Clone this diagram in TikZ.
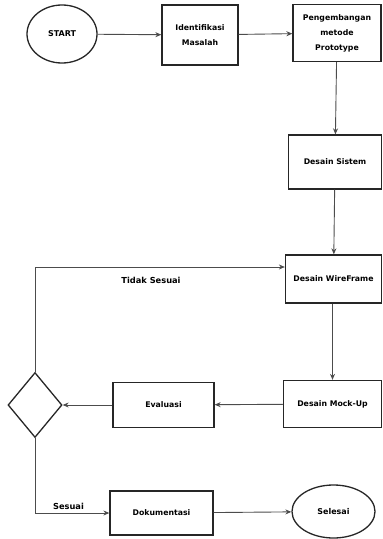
\documentclass[tikz,border=0pt]{standalone}
\usepackage{fontspec}
\setmainfont{DejaVu Sans}
\usetikzlibrary{shapes.geometric,arrows.meta}
\begin{document}
\begin{tikzpicture}[x=1bp,y=-1bp,
  box/.style={draw=black!85,line width=1.3bp,minimum width=#1,inner sep=1bp,align=center,font=\fontsize{7.8}{15}\selectfont\bfseries},
  oval/.style={draw=black!85,line width=1.3bp,ellipse,inner sep=0,align=center,font=\fontsize{8}{9}\selectfont\bfseries},
  dec/.style={draw=black!85,line width=1.3bp,diamond,inner sep=0},
  conn/.style={draw=black!70,line width=0.9bp,-{Stealth[length=6bp,width=5bp]}},
  lbl/.style={font=\fontsize{8.3}{9}\selectfont\bfseries}]
\useasboundingbox (0,0) rectangle (382,539);
\node[oval,minimum width=70bp,minimum height=58bp] (start) at (62,34) {START};
\node[box=76bp,minimum height=60bp] (ident) at (200,35) {Identifikasi\\Masalah};
\node[box=88bp,minimum height=57bp] (peng) at (337,33) {Pengembangan\\metode\\Prototype};
\node[box=93bp,minimum height=54bp] (dsis) at (335,162) {Desain Sistem};
\node[box=96bp,minimum height=48bp] (dwire) at (333.5,279) {Desain WireFrame};
\node[box=98bp,minimum height=47bp] (dmock) at (332.5,404) {Desain Mock-Up};
\node[box=101bp,minimum height=45bp] (eval) at (163.5,405) {Evaluasi};
\node[dec,minimum width=54bp,minimum height=65bp] (dia) at (35,405) {};
\node[box=103bp,minimum height=44bp] (dok) at (161.5,513) {Dokumentasi};
\node[oval,minimum width=83bp,minimum height=53bp] (sel) at (333.5,511.5) {Selesai};
\coordinate (c1) at (35,267);
\coordinate (c2) at (35,513);
\draw[conn] (start) -- (ident);
\draw[conn] (ident) -- (peng);
\draw[conn] (peng) -- (dsis);
\draw[conn] (dsis) -- (dwire);
\draw[conn] (dwire.south -| dmock.north) -- (dmock);
\draw[conn] (dmock) -- (eval);
\draw[conn] (eval) -- (dia);
\draw[conn] (dia.north) -- (c1) -- (c1 -| dwire.west);
\draw[conn] (dia.south) -- (c2) -- (dok);
\draw[conn] (dok) -- (sel);
\node[lbl] (tidak) at (151,280) {Tidak Sesuai};
\node[lbl] (sesuai) at (68.5,506) {Sesuai};
\end{tikzpicture}
\end{document}
